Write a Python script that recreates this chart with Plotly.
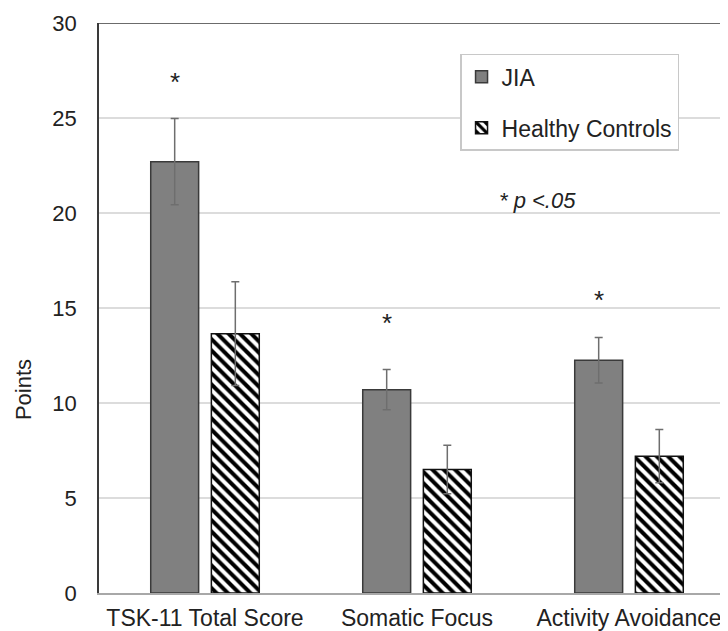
import plotly.graph_objects as go

categories = ["TSK-11 Total Score", "Somatic Focus", "Activity Avoidance"]
jia_mean = [22.7, 10.7, 12.25]
jia_err = [2.27, 1.06, 1.2]
hc_mean = [13.65, 6.5, 7.2]
hc_err = [2.73, 1.27, 1.4]
sig_y = [27.1, 14.4, 15.65]
y_ticks = [0, 5, 10, 15, 20, 25, 30]

FONT = "Liberation Sans, Arial, sans-serif"
xi = list(range(len(categories)))
W = 0.226
GAP = 0.03

fig = go.Figure()
fig.add_trace(go.Bar(
    name="JIA", x=xi, y=jia_mean, width=W, offset=-(W + GAP),
    marker=dict(color="#808080", line=dict(color="#3a3a3a", width=1.5)),
    error_y=dict(type="data", array=jia_err, visible=True, color="#6e6e6e", thickness=1.5, width=4),
    legendgroup="a",
))
fig.add_trace(go.Bar(
    name="Healthy Controls", x=xi, y=hc_mean, width=W, offset=GAP,
    marker=dict(color="white", line=dict(color="#111111", width=1.5),
                pattern=dict(shape="\\", fgcolor="#000000", bgcolor="white", fgopacity=1,
                             size=8, solidity=0.5)),
    error_y=dict(type="data", array=hc_err, visible=True, color="#6e6e6e", thickness=1.5, width=4),
    legendgroup="b",
))

for i, yv in enumerate(sig_y):
    fig.add_annotation(x=i - (W / 2 + GAP), y=yv, xref="x", yref="y", text="*", showarrow=False,
                       font=dict(family=FONT, size=26, color="#222"), yanchor="middle", yshift=-4)

fig.add_annotation(x=0.632, y=0.688, xref="paper", yref="paper", text="<i>* p &lt;.05</i>", showarrow=False,
                   xanchor="left", yanchor="middle", font=dict(family=FONT, size=22, color="#222"))
fig.add_annotation(x=-0.1208, y=0.356, xref="paper", yref="paper", text="Points", textangle=-90,
                   showarrow=False, xanchor="center", yanchor="middle",
                   font=dict(family=FONT, size=22, color="#222"))

fig.add_shape(type="line", xref="paper", yref="y", x0=0, x1=1, y0=30, y1=30,
              line=dict(color="#3a3a3a", width=1.5))

fig.update_layout(
    width=720, height=623,
    margin=dict(l=91, r=0, t=15, b=38),
    paper_bgcolor="white", plot_bgcolor="white",
    font=dict(family=FONT, size=22, color="#222"),
    showlegend=True,
    legend=dict(x=0.574, y=0.946, xanchor="left", yanchor="top", bordercolor="#c8c8c8", borderwidth=1.5,
                bgcolor="white", font=dict(family=FONT, size=23, color="#222"),
                traceorder="grouped", tracegroupgap=18),
    xaxis=dict(range=[-0.5, 2.467], tickmode="array", tickvals=xi, ticktext=categories,
               showline=True, linecolor="#a8a8a8", linewidth=1.5, showgrid=False, ticks="",
               ticklabelstandoff=4, tickfont=dict(family=FONT, size=23, color="#222"), zeroline=False),
    yaxis=dict(range=[0, 30], tickmode="array", tickvals=y_ticks, showline=True, linecolor="#3a3a3a",
               linewidth=1.5, showgrid=True, gridcolor="#dcdcdc", gridwidth=1.5, zeroline=False,
               ticks="", ticklabelstandoff=16, tickfont=dict(family=FONT, size=22, color="#222")),
)

fig.write_html("out.html")
